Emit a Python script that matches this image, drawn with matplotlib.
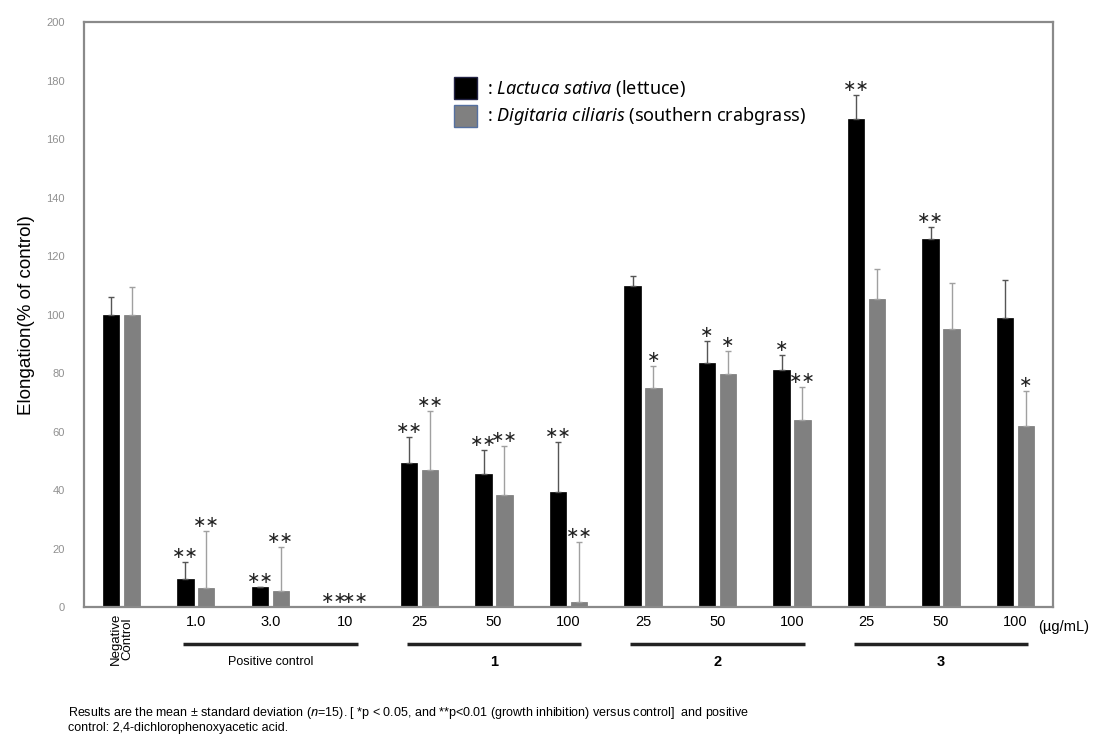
import numpy as np
import matplotlib.pyplot as plt
from matplotlib.patches import Rectangle

plt.rcParams['font.family'] = ['Liberation Sans', 'DejaVu Sans']
plt.rcParams['mathtext.fontset'] = 'custom'
plt.rcParams['mathtext.it'] = 'Noto Sans:italic'
plt.rcParams['mathtext.rm'] = 'Noto Sans'

# dose labels per category
doses = ['', '1.0', '3.0', '10', '25', '50', '100', '25', '50', '100', '25', '50', '100']

# Lactuca sativa (lettuce)
lettuce = [100, 9.5, 7, 0, 49.3, 45.6, 39.4, 109.7, 83.5, 80.9, 167, 125.8, 99]
lettuce_sd = [6, 6, 0, 0, 9, 8, 17, 3.6, 7.6, 5.4, 8, 4.2, 13]
lettuce_sig = ['', '**', '**', '**', '**', '**', '**', '', '*', '*', '**', '**', '']

# Digitaria ciliaris (southern crabgrass)
crabgrass = [100, 6.6, 5.5, 0, 47, 38.2, 1.6, 75, 79.8, 63.8, 105.3, 95, 61.9]
crabgrass_sd = [9.6, 19.4, 15, 0, 20, 17, 20.6, 7.3, 7.7, 11.6, 10.3, 15.7, 12]
crabgrass_sig = ['', '**', '**', '**', '**', '**', '**', '*', '*', '**', '', '', '*']

# group brackets: (label, first index, last index, bold)
groups = [('Positive control', 1, 3, False), ('1', 4, 6, True),
          ('2', 7, 9, True), ('3', 10, 12, True)]

x = np.arange(len(doses))
w = 0.22
off = 0.14

fig = plt.figure(figsize=(11.06, 7.39), dpi=100)
ax = fig.add_axes([0.076, 0.1786, 0.876, 0.7914])

ax.bar(x - off, lettuce, w, color='black', edgecolor='black', linewidth=0.5)
ax.bar(x + off, crabgrass, w, color='#808080', edgecolor='#777777', linewidth=0.5)
ax.errorbar(x - off, lettuce, yerr=[np.zeros(len(x)), lettuce_sd], fmt='none',
            ecolor='#555555', elinewidth=1, capsize=2.5, capthick=1)
ax.errorbar(x + off, crabgrass, yerr=[np.zeros(len(x)), crabgrass_sd], fmt='none',
            ecolor='#a0a0a0', elinewidth=1, capsize=2.5, capthick=1)


def stars(s):
    return '\u2217' * len(s)


for i in range(len(x)):
    if lettuce_sig[i]:
        ax.text(x[i] - off, lettuce[i] + lettuce_sd[i] + 0.3, stars(lettuce_sig[i]),
                ha='center', va='bottom', fontsize=11.5, family='DejaVu Sans',
                color='#222222')
    if crabgrass_sig[i]:
        ax.text(x[i] + off, crabgrass[i] + crabgrass_sd[i] + 0.3, stars(crabgrass_sig[i]),
                ha='center', va='bottom', fontsize=11.5, family='DejaVu Sans',
                color='#222222')

ax.set_xlim(-0.5, len(x) - 0.5)
ax.set_ylim(0, 200)
ax.set_yticks(np.arange(0, 201, 20))
ax.tick_params(axis='y', length=0, labelsize=8, colors='#909090', pad=14)
ax.set_xticks(x)
ax.set_xticklabels(doses, fontsize=10.5)
ax.tick_params(axis='x', length=0, pad=6)
for s in ax.spines.values():
    s.set_color('#8a8a8a')
    s.set_linewidth(1.6)

ax.set_ylabel('Elongation(% of control)', fontsize=13.5, labelpad=8)

ax.text(0, -2, 'Negative\nControl', rotation=90, ha='center', va='top',
        fontsize=9.5, linespacing=0.95)
ax.text(0.985, -0.034, '(\u00b5g/mL)', transform=ax.transAxes, ha='left',
        va='center', fontsize=10.5)

for label, a, b, bold in groups:
    ax.plot([a - 0.17, b + 0.17], [-12.7, -12.7], color='#222222', lw=2.5,
            clip_on=False, solid_capstyle='butt')
    ax.text((a + b) / 2, -18.7, label, ha='center', va='center',
            fontsize=10.5 if bold else 9, fontweight='bold' if bold else 'normal')

# legend
ax.add_patch(Rectangle((0.382, 0.869), 0.0237, 0.0375, transform=ax.transAxes,
                       facecolor='black', edgecolor='#222244', lw=1))
ax.add_patch(Rectangle((0.382, 0.821), 0.0237, 0.0375, transform=ax.transAxes,
                       facecolor='#808080', edgecolor='#5570a0', lw=1))
ax.text(0.416, 0.887, r': $\it{Lactuca\ sativa}$ (lettuce)', transform=ax.transAxes,
        va='center', fontsize=13, family='Noto Sans')
ax.text(0.416, 0.840, r': $\it{Digitaria\ ciliaris}$ (southern crabgrass)',
        transform=ax.transAxes, va='center', fontsize=13, family='Noto Sans')

fig.text(0.0615, 0.007,
         'Results are the mean \u00b1 standard deviation ($\\it{n}$=15). [ *p < 0.05, and **p<0.01 '
         '(growth inhibition) versus control]  and positive\ncontrol: 2,4-dichlorophenoxyacetic acid.',
         fontsize=9, va='bottom', ha='left', linespacing=1.1)

fig.savefig('out.png', dpi=100)
